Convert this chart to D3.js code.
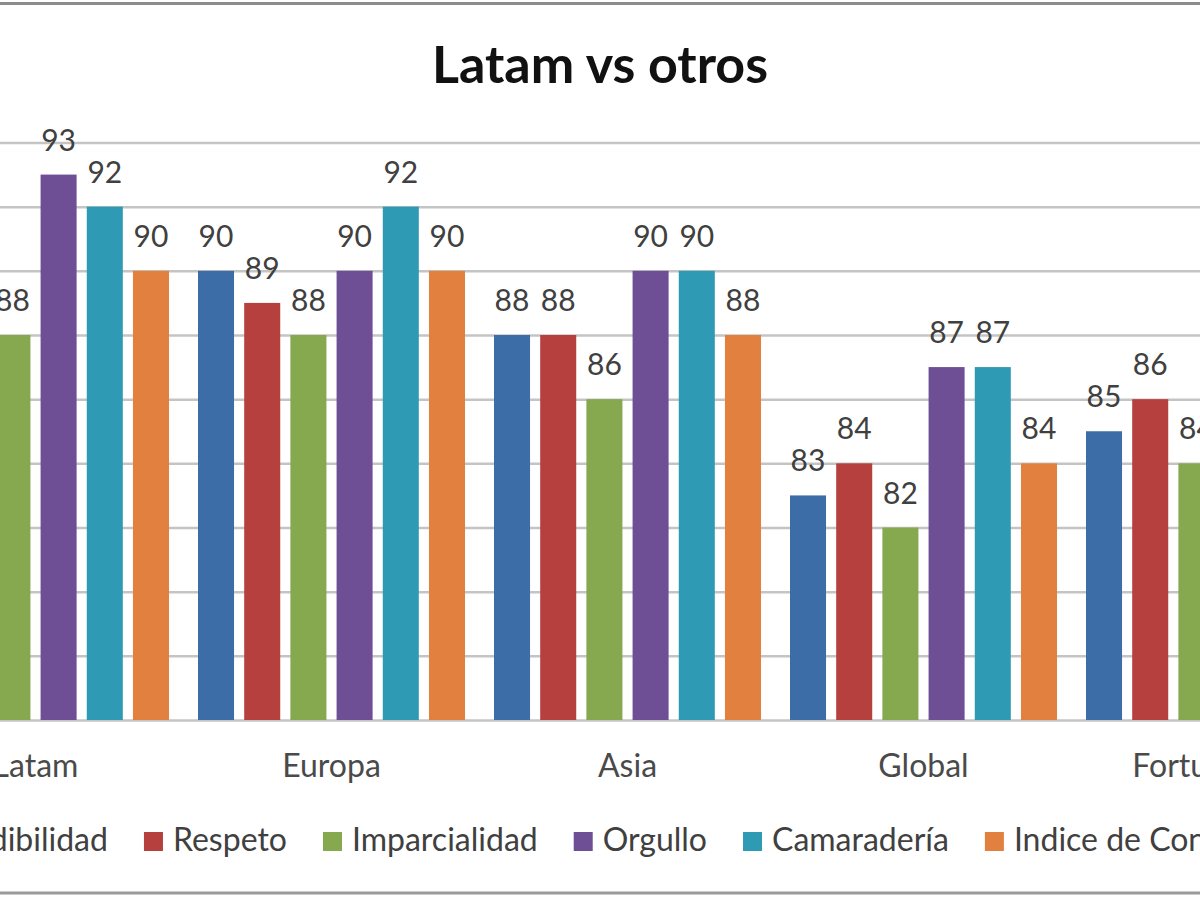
<!DOCTYPE html>
<html>
<head>
<meta charset="utf-8">
<script src="https://cdn.jsdelivr.net/npm/d3@7"></script>
<style>
  html, body { margin: 0; padding: 0; background: #fff; }
  svg { display: block; }
  text { font-family: Lato, "Open Sans", sans-serif; }
</style>
</head>
<body>
<svg id="chart" width="1200" height="900"></svg>
<script>
// ---- data (values outside the cropped view are null) ----
const categories = ["Latam", "Europa", "Asia", "Global", "Fortune 100"];
const seriesNames = ["Credibilidad", "Respeto", "Imparcialidad", "Orgullo", "Camaradería", "Indice de Confianza"];
const credibilidad = [null, 90, 88, 83, 85];
const respeto      = [null, 89, 88, 84, 86];
const imparcialidad = [88, 88, 86, 82, 84];
const orgullo      = [93, 90, 90, 87, null];
const camaraderia  = [92, 92, 90, 87, null];
const indice       = [90, 90, 88, 84, null];
const yTicks = [76, 78, 80, 82, 84, 86, 88, 90, 92, 94];
const seriesColors = ["#3D6DA6", "#B5403D", "#86A84E", "#6E4F95", "#2F9AB4", "#E1803F"];
const title = "Latam vs otros";

const seriesValues = [credibilidad, respeto, imparcialidad, orgullo, camaraderia, indice];

const svg = d3.select("#chart");
svg.append("rect").attr("width", 1200).attr("height", 900).attr("fill", "#fff");

// frame lines (top and bottom borders of the cropped chart area)
svg.append("line").attr("x1", 0).attr("x2", 1200).attr("y1", 3.5).attr("y2", 3.5)
  .attr("stroke", "#8c8c8c").attr("stroke-width", 3);
svg.append("line").attr("x1", 0).attr("x2", 1200).attr("y1", 893).attr("y2", 893)
  .attr("stroke", "#9a9a9a").attr("stroke-width", 3);

// scales
const x0 = d3.scaleBand().domain(categories)
  .range([-112.5, -112.5 + 296 * 5])
  .paddingInner(0.098).paddingOuter(0.049);
const x1 = d3.scaleBand().domain(seriesNames)
  .range([0, x0.bandwidth()])
  .paddingInner(0.22).paddingOuter(0);
const y = d3.scaleLinear().domain([76, 94]).range([720, 142.5]);

// gridlines via axis
const grid = svg.append("g").attr("class", "grid")
  .call(d3.axisLeft(y).tickValues(yTicks).tickSize(-1400).tickFormat(""))
  .attr("transform", "translate(-100,0)");
grid.select(".domain").remove();
grid.selectAll(".tick line").attr("stroke", "#c4c4c4").attr("stroke-width", 2.5);

const cells = [];
categories.forEach((c, ci) => {
  seriesNames.forEach((s, si) => {
    const v = seriesValues[si][ci];
    if (v !== null) cells.push({ c, s, si, v });
  });
});

// bars
svg.append("g").selectAll("rect").data(cells).join("rect")
  .attr("x", d => x0(d.c) + x1(d.s))
  .attr("width", x1.bandwidth())
  .attr("y", d => y(d.v))
  .attr("height", d => y(76) - y(d.v))
  .attr("fill", d => seriesColors[d.si]);

// value labels
svg.append("g").selectAll("text").data(cells).join("text")
  .attr("x", d => x0(d.c) + x1(d.s) + x1.bandwidth() / 2)
  .attr("y", d => y(d.v) - 24)
  .attr("text-anchor", "middle")
  .attr("font-size", 30)
  .attr("fill", "#404040")
  .text(d => d.v);

// category axis labels
const xAxis = svg.append("g").attr("transform", "translate(0,720)")
  .call(d3.axisBottom(x0).tickSize(0).tickPadding(0));
xAxis.select(".domain").remove();
xAxis.selectAll("text")
  .attr("y", 57).attr("dy", 0)
  .attr("font-size", 32)
  .attr("font-family", "Lato, sans-serif")
  .attr("fill", "#4a4a4a");

// title
svg.append("text").attr("x", 600).attr("y", 83)
  .attr("text-anchor", "middle")
  .attr("font-size", 52).attr("font-weight", "bold")
  .attr("fill", "#111")
  .text(title);

// legend
const legend = svg.append("g");
const items = legend.selectAll("g").data(seriesNames).join("g");
items.append("rect").attr("width", 19).attr("height", 19).attr("y", 832)
  .attr("fill", (d, i) => seriesColors[i]);
items.append("text").attr("x", 29).attr("y", 851)
  .attr("font-size", 32).attr("fill", "#404040")
  .text(d => d);
let offs = 0;
const pos = [];
items.each(function () {
  const w = d3.select(this).select("text").node().getComputedTextLength();
  pos.push(offs);
  offs += 29 + w + 36;
});
const total = offs - 36;
const start = 600 - total / 2;
items.attr("transform", (d, i) => `translate(${start + pos[i]},0)`);
</script>
</body>
</html>
